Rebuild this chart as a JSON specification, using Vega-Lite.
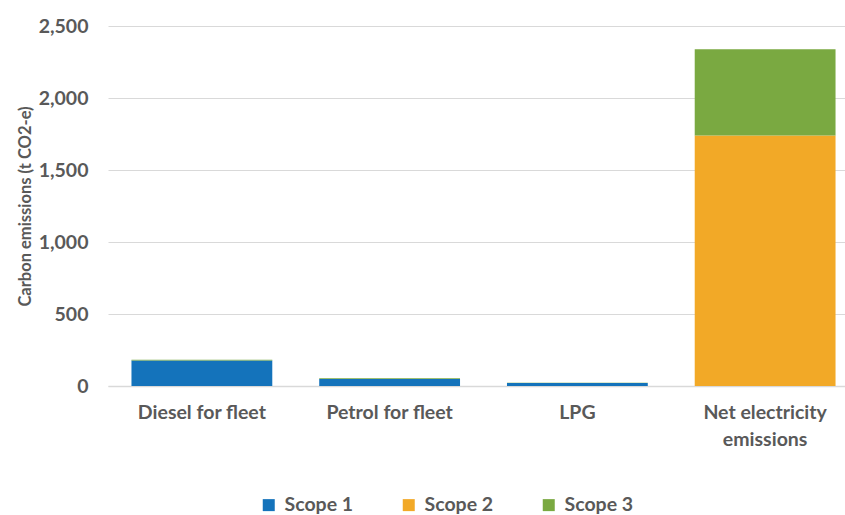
{
  "$schema": "https://vega.github.io/schema/vega-lite/v6.json",
  "width": 737,
  "height": 360,
  "autosize": {"type": "none"},
  "padding": {"left": 108, "top": 26, "right": 0, "bottom": 129},
  "background": "white",
  "config": {
    "view": {"stroke": null},
    "font": "Lato",
    "axis": {"labelFont": "Lato", "titleFont": "Lato", "labelColor": "#595959", "titleColor": "#595959"}
  },
  "data": {
    "values": [
      {"source": "Diesel for fleet", "scope": "Scope 1", "rank": 1, "emissions": 177},
      {"source": "Diesel for fleet", "scope": "Scope 3", "rank": 3, "emissions": 6},
      {"source": "Petrol for fleet", "scope": "Scope 1", "rank": 1, "emissions": 49},
      {"source": "Petrol for fleet", "scope": "Scope 3", "rank": 3, "emissions": 5},
      {"source": "LPG", "scope": "Scope 1", "rank": 1, "emissions": 20},
      {"source": "LPG", "scope": "Scope 3", "rank": 3, "emissions": 2},
      {"source": "Net electricity emissions", "scope": "Scope 2", "rank": 2, "emissions": 1740},
      {"source": "Net electricity emissions", "scope": "Scope 3", "rank": 3, "emissions": 598}
    ]
  },
  "mark": {"type": "bar"},
  "encoding": {
    "x": {
      "field": "source",
      "type": "nominal",
      "sort": ["Diesel for fleet", "Petrol for fleet", "LPG", "Net electricity emissions"],
      "scale": {"range": [0, 751], "paddingInner": 0.25, "paddingOuter": 0.125},
      "axis": {
        "title": null,
        "labelAngle": 0,
        "labelFontSize": 19.5,
        "labelFontWeight": "bold",
        "labelPadding": 26,
        "labelBaseline": "middle",
        "labelLineHeight": 27,
        "labelExpr": "datum.label == 'Net electricity emissions' ? ['Net electricity', 'emissions'] : datum.label",
        "ticks": false,
        "domainColor": "#D9D9D9",
        "domainWidth": 1.5,
        "grid": false
      }
    },
    "y": {
      "field": "emissions",
      "type": "quantitative",
      "stack": "zero",
      "scale": {"domain": [0, 2500]},
      "axis": {
        "title": "Carbon emissions (t CO2-e)",
        "titleFontSize": 16.5,
        "titleFontWeight": "bold",
        "titlePadding": 5,
        "values": [0, 500, 1000, 1500, 2000, 2500],
        "format": ",d",
        "labelFontSize": 19.5,
        "labelFontWeight": "bold",
        "labelPadding": 20,
        "ticks": false,
        "domain": false,
        "gridColor": "#D9D9D9",
        "gridWidth": 1
      }
    },
    "color": {
      "field": "scope",
      "type": "nominal",
      "scale": {
        "domain": ["Scope 1", "Scope 2", "Scope 3"],
        "range": ["#1473BB", "#F2A927", "#7AA941"]
      },
      "legend": {
        "title": null,
        "orient": "none",
        "direction": "horizontal",
        "legendX": 151,
        "legendY": 469,
        "symbolType": "square",
        "symbolSize": 144,
        "symbolStrokeWidth": 0,
        "labelFont": "Lato",
        "labelFontSize": 19.5,
        "labelFontWeight": "bold",
        "labelColor": "#595959",
        "columnPadding": 45,
        "labelOffset": 6
      }
    },
    "order": {"field": "rank", "type": "quantitative", "sort": "ascending"}
  }
}
